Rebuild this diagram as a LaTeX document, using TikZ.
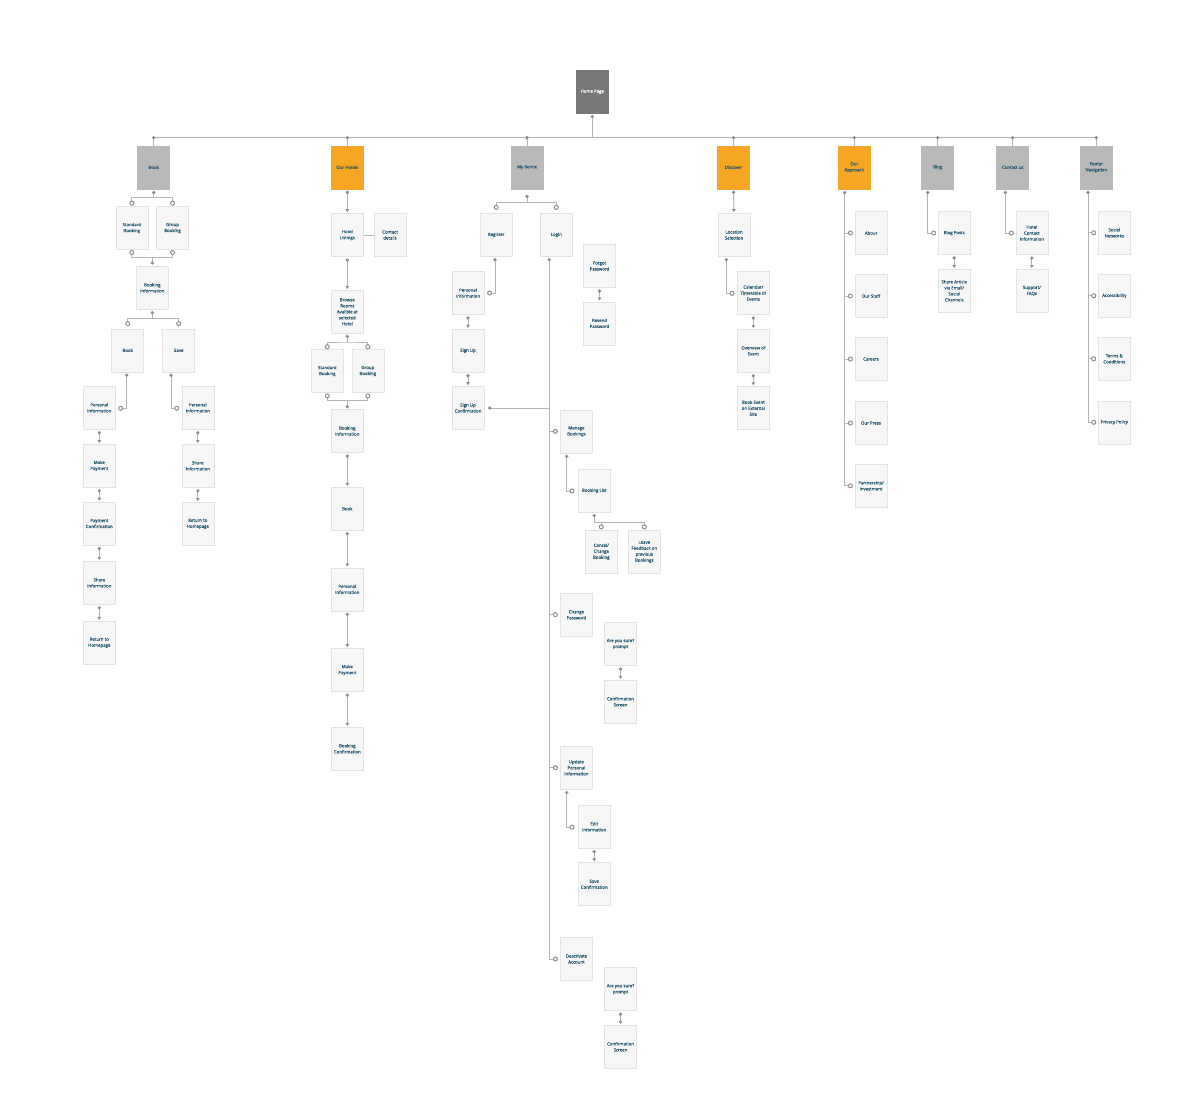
\documentclass[tikz,border=0pt]{standalone}
\usepackage{fontspec}
\setmainfont{Open Sans}
\newfontfamily\boxfont{Open Sans}[FakeBold=0.5]
\usetikzlibrary{arrows.meta,calc}
\definecolor{lc}{HTML}{B5B5B5}
\definecolor{dc}{HTML}{8E8E8E}
\definecolor{bf}{HTML}{F7F7F7}
\definecolor{bd}{HTML}{E3E3E3}
\definecolor{tc}{HTML}{2A5C75}
\definecolor{gtop}{HTML}{B9B9B9}
\definecolor{htop}{HTML}{787878}
\definecolor{otop}{HTML}{F5A623}
\tikzset{
  box/.style={draw=bd, fill=bf, line width=0.6pt, minimum width=32pt, minimum height=43pt, inner sep=0.5pt, align=center, text=tc, font=\boxfont\fontsize{4.35}{6}\selectfont},
  gbox/.style={box, draw=gtop, fill=gtop},
  obox/.style={box, draw=otop, fill=otop},
  hbox/.style={box, draw=htop, fill=htop, text=white},
  ln/.style={draw=lc, line width=1pt},
  ds/.style={arrows={Circle[length=3.2pt,color=dc]}-},
  de/.style={arrows=-{Circle[length=3.2pt,color=dc]}},
  oe/.style={arrows=-{Circle[color=dc,open,fill=white,length=5pt]}},
  oo/.style={arrows={Circle[color=dc,open,fill=white,length=5pt]}-{Circle[color=dc,open,fill=white,length=5pt]}},
  dso/.style={arrows={Circle[length=3.2pt,color=dc]}-{Circle[color=dc,open,fill=white,length=5pt]}},
  arr/.style={arrows={Circle[length=3.2pt,color=dc]}-{Triangle[length=3pt,width=3.5pt,color=dc]}},
}
\begin{document}
\begin{tikzpicture}[x=1pt,y=-1pt]
\useasboundingbox[fill=white] (0,0) rectangle (1200,1098);
% top level
\node[hbox] (home) at (592.3,91.7) {Home Page};
\node[gbox] (tbook) at (153.7,167.3) {Book};
\node[obox] (thot) at (347.3,167.3) {Our Hotels};
\node[gbox] (trem) at (527,167.3) {My Remix};
\node[obox] (tdis) at (733.5,167.3) {Discover};
\node[obox] (tapp) at (854.3,167.3) {Our\\Approach};
\node[gbox] (tblog) at (937.7,167.3) {Blog};
\node[gbox] (tcon) at (1012.7,167.3) {Contact us};
\node[gbox] (tfoot) at (1096.3,167.3) {Footer\\Navigation};
% Book subtree
\node[box] (bstd) at (131.8,228) {Standard\\Booking};
\node[box] (bgrp) at (172.5,228) {Group\\Booking};
\node[box] (binf) at (152.3,287.8) {Booking\\Information};
\node[box] (bbook) at (127.7,350.3) {Book};
\node[box] (bsave) at (178.7,350.3) {Save};
\node[box] (bpi) at (99.3,407.8) {Personal\\Information};
\node[box] (bmp) at (99.3,465.8) {Make\\Payment};
\node[box] (bpc) at (99.3,523.5) {Payment\\Confirmation};
\node[box] (bsh) at (99.3,582.8) {Share\\Information};
\node[box] (bret) at (99.3,642.7) {Return to\\Homepage};
\node[box] (spi) at (197.8,407.8) {Personal\\Information};
\node[box] (ssh) at (197.8,465.8) {Share\\Information};
\node[box] (sret) at (197.8,523.8) {Return to\\Homepage};
% Our Hotels subtree
\node[box] (hl) at (347.3,235) {Hotel\\Listings};
\node[box] (hcd) at (390,235) {Contact\\details};
\node[box] (hbr) at (347.3,311.8) {Browse\\Rooms\\Availble at\\selected\\Hotel};
\node[box] (hstd) at (327.3,371) {Standard\\Booking};
\node[box] (hgrp) at (367.8,371) {Group\\Booking};
\node[box] (hbi) at (347.3,431) {Booking\\Information};
\node[box] (hbook) at (347.3,508.7) {Book};
\node[box] (hpi) at (347.3,589.3) {Personal\\Information};
\node[box] (hmp) at (347.3,670) {Make\\Payment};
\node[box] (hbc) at (347.3,748.7) {Booking\\Confirmation};
% My Remix subtree
\node[box] (rreg) at (496.2,234.8) {Register};
\node[box] (rlog) at (556.3,234.8) {Login};
\node[box] (rpi) at (468,293) {Personal\\Information};
\node[box] (rsu) at (468,350.7) {Sign Up};
\node[box] (rsuc) at (468,408) {Sign Up\\Confirmation};
\node[box] (rfp) at (599.5,266) {Forgot\\Password};
\node[box] (rrp) at (599.5,323.3) {Resend\\Password};
\node[box] (rmb) at (576.4,431.4) {Manage\\Bookings};
\node[box] (rbl) at (594.2,490.7) {Booking List};
\node[box] (rcc) at (601.3,551.7) {Cancel/\\Change\\Booking};
\node[box] (rlf) at (644.3,551.7) {Leave\\Feedback on\\previous\\Bookings};
\node[box] (rcp) at (576.4,614.7) {Change\\Password};
\node[box] (ras1) at (620.5,644) {Are you sure?\\prompt};
\node[box] (rcs1) at (620.5,701.7) {Confirmation\\Screen};
\node[box] (rupi) at (576.4,767.7) {Update\\Personal\\Information};
\node[box] (red) at (594.2,826.7) {Edit\\Information};
\node[box] (rsc) at (594.2,884.2) {Save\\Confirmation};
\node[box] (rdea) at (576.4,959) {Deactivate\\Account};
\node[box] (ras2) at (620.5,989.2) {Are you sure?\\prompt};
\node[box] (rcs2) at (620.5,1046.8) {Confirmation\\Screen};
% Discover subtree
\node[box] (dls) at (734,235) {Location\\Selection};
\node[box] (dcal) at (753.3,293) {Calendar/\\Timetable of\\Events};
\node[box] (dov) at (753.3,350.8) {Overview of\\Event};
\node[box] (dbe) at (753.3,408.2) {Book Event\\on External\\Site};
% Our Approach subtree
\node[box] (aab) at (871,233) {About};
\node[box] (ast) at (871,296) {Our Staff};
\node[box] (aca) at (871,359) {Careers};
\node[box] (apr) at (871,423) {Our Press};
\node[box] (apa) at (871,485.8) {Partnership/\\Investment};
% Blog
\node[box] (gbp) at (954.2,233) {Blog Posts};
\node[box] (gsa) at (954.2,290.8) {Share Article\\via Email/\\Social\\Channels};
% Contact
\node[box] (chc) at (1031.8,233) {Hotel\\Contact\\Information};
\node[box] (csf) at (1031.8,290.8) {Support/\\FAQs};
% Footer
\node[box] (fsn) at (1114.3,232.8) {Social\\Networks};
\node[box] (fac) at (1114.3,295.8) {Accessibility};
\node[box] (ftc) at (1114.3,358.8) {Terms \&\\Conditions};
\node[box] (fpp) at (1114.3,422.3) {Privacy Policy};

% ---------- connectors ----------
\coordinate (bus) at (0,137.7);
\draw[ln] (bus -| tbook.north) -- (bus -| tfoot.north);
\draw[ln,ds] ($(home.south)+(0,1.5)$) -- (bus -| home.south);
\foreach \t in {tbook,thot,trem,tdis,tapp,tblog,tcon,tfoot}
  \draw[ln,ds] ($(bus -| \t.north)+(0,-1.6)$) -- (\t.north);

% chains with arrows
\foreach \a/\b in {bpi/bmp,bmp/bpc,bpc/bsh,bsh/bret,spi/ssh,ssh/sret,thot/hl,hl/hbr,hbi/hbook,hbook/hpi,hpi/hmp,hmp/hbc,rpi/rsu,rsu/rsuc,rfp/rrp,ras1/rcs1,red/rsc,ras2/rcs2,tdis/dls,dcal/dov,dov/dbe,gbp/gsa,chc/csf}
  \draw[ln,arr] ($(\a.south)+(0,1.6)$) -- ($(\b.north)+(0,-1)$);

% Book subtree
\coordinate (bk1) at ($(tbook.south)+(0,8.6)$);
\draw[ln,ds] ($(tbook.south)+(0,1.8)$) -- (bk1);
\draw[ln,oo] ($(bstd.north)+(0,-0.5)$) |- (bk1) -| ($(bgrp.north)+(0,-0.5)$);
\coordinate (bk2) at ($(binf.north)+(0,-8.6)$);
\draw[ln,oo] ($(bstd.south)+(0,0.2)$) |- (bk2) -| ($(bgrp.south)+(0,0.2)$);
\draw[ln,de] (bk2) -- ($(binf.north)+(0,-1.5)$);
\coordinate (bk3) at ($(binf.south)+(0,9)$);
\draw[ln,ds] ($(binf.south)+(0,1.5)$) -- (bk3);
\draw[ln,oo] ($(bbook.north)+(0,-2.3)$) |- (bk3) -| ($(bsave.north)+(0,-2.3)$);
\draw[ln,dso] ($(bbook.south)+(-1,1.5)$) |- ($(bpi.east)+(2.5,0.5)$);
\draw[ln,dso] ($(bsave.south)+(-7.7,1.5)$) |- ($(spi.west)+(-2.3,0.5)$);

% Our Hotels subtree
\draw[ln] (hl.east) -- (hcd.west);
\coordinate (hk1) at ($(hbr.south)+(0,8.4)$);
\draw[ln,ds] ($(hbr.south)+(0,1.2)$) -- (hk1);
\draw[ln,oo] (hstd.north) |- (hk1) -| (hgrp.north);
\coordinate (hk2) at ($(hbi.north)+(0,-8.7)$);
\draw[ln,oo] ($(hstd.south)+(0,0.5)$) |- (hk2) -| ($(hgrp.south)+(0,0.5)$);
\draw[ln,de] (hk2) -- ($(hbi.north)+(0,-0.9)$);

% My Remix subtree
\coordinate (rk1) at ($(trem.south)+(0,13)$);
\draw[ln,ds] ($(trem.south)+(0,5.8)$) -- (rk1);
\draw[ln,oo] ($(rreg.north)+(0,-3.1)$) |- (rk1) -| ($(rlog.north)+(0,-3.1)$);
\draw[ln,dso] ($(rreg.south)+(-1.2,1.5)$) |- ($(rpi.east)+(2.8,0)$);
\coordinate (lt) at ($(rlog.south)+(-7,0)$);
\draw[ln,dso] ($(rlog.south)+(-7,1.5)$) |- ($(rdea.west)+(-2.2,0)$);
\foreach \n in {rmb,rcp,rupi}
  \draw[ln,oe] (lt |- \n.west) -- ($(\n.west)+(-2.2,0)$);
\draw[ln,ds] ($(rsuc.east)+(3.8,0)$) -- (lt |- rsuc.east);
\draw[ln,dso] ($(rmb.south)+(-9.7,1.5)$) |- ($(rbl.west)+(-3.4,0.3)$);
\coordinate (blk) at ($(rbl.south)+(0,9.7)$);
\draw[ln,dso] ($(rbl.south)+(0,1.5)$) -- (blk) -| ($(rlf.north)+(0,-0.5)$);
\draw[ln,oe] (blk -| rcc.north) -- ($(rcc.north)+(0,-0.5)$);
\draw[ln,dso] ($(rupi.south)+(-9.7,1.5)$) |- ($(red.west)+(-3.4,0.5)$);

% Discover subtree
\draw[ln,dso] ($(dls.south)+(-7.7,1.3)$) |- ($(dcal.west)+(-2.5,0.3)$);

% Our Approach subtree
\coordinate (at) at ($(tapp.south)+(-9.6,0)$);
\draw[ln,dso] ($(tapp.south)+(-9.6,2)$) |- ($(apa.west)+(-1.8,0)$);
\foreach \n in {aab,ast,aca,apr}
  \draw[ln,oe] (at |- \n.west) -- ($(\n.west)+(-1.8,0)$);

% Blog and Contact
\draw[ln,dso] ($(tblog.south)+(-10,1.8)$) |- ($(gbp.west)+(-1.7,0)$);
\draw[ln,dso] ($(tcon.south)+(-7.4,1.8)$) |- ($(chc.west)+(-1.6,0)$);

% Footer
\coordinate (ft) at ($(tfoot.south)+(-8.3,0)$);
\draw[ln,dso] ($(tfoot.south)+(-8.3,1.8)$) |- ($(fpp.west)+(-1.8,0)$);
\foreach \n in {fsn,fac,ftc}
  \draw[ln,oe] (ft |- \n.west) -- ($(\n.west)+(-1.8,0)$);
\end{tikzpicture}
\end{document}
